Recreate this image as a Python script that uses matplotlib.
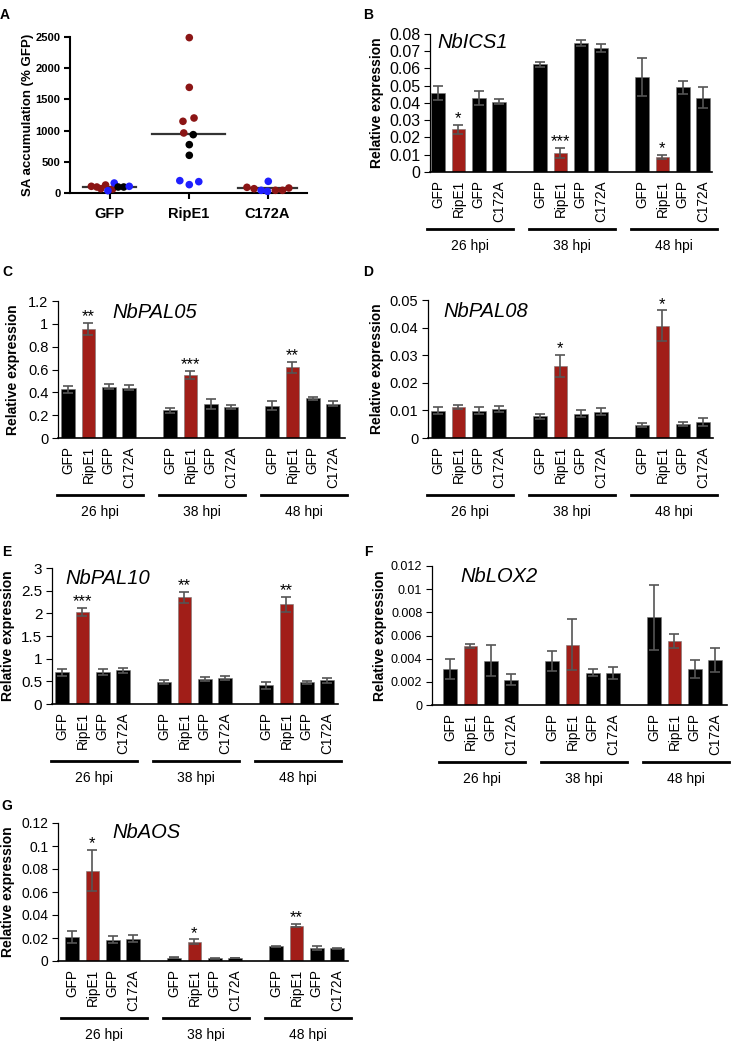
import numpy as np
import matplotlib.pyplot as plt
from matplotlib import transforms
from matplotlib.ticker import FuncFormatter

plt.rcParams['font.family'] = ['Liberation Sans', 'DejaVu Sans']

W, H = 734, 1041
RED = '#a11e18'
DARKRED = '#8b1515'
BLUE = '#1f1fff'

# ---- panel A data: SA accumulation (% GFP), one dot per sample
sa_groups = ['GFP', 'RipE1', 'C172A']
sa_gfp = [107, 96, 69, 128, 64, 37, 160, 96, 96, 107]
sa_gfp_col = ['r', 'r', 'r', 'r', 'r', 'b', 'b', 'k', 'k', 'b']
sa_gfp_dx = [-0.23, -0.16, -0.11, -0.05, 0.04, -0.02, 0.06, 0.11, 0.18, 0.25]
sa_ripe1 = [2490, 1693, 1149, 1202, 962, 935, 775, 604, 198, 134, 182]
sa_ripe1_col = ['r', 'r', 'r', 'r', 'r', 'k', 'k', 'k', 'b', 'b', 'b']
sa_ripe1_dx = [0.01, 0.01, -0.07, 0.07, -0.06, 0.06, 0.01, 0.01, -0.11, 0.01, 0.13]
sa_c172a = [91, 69, 43, 187, 27, 43, 43, 80]
sa_c172a_col = ['r', 'r', 'b', 'b', 'b', 'r', 'r', 'r']
sa_c172a_dx = [-0.26, -0.17, -0.08, 0.01, 0.0, 0.10, 0.19, 0.27]

# ---- qRT-PCR data (bars: GFP, RipE1, GFP, C172A at 26 / 38 / 48 hpi)
hpi = ['26 hpi', '38 hpi', '48 hpi']
bar_labels = ['GFP', 'RipE1', 'GFP', 'C172A']

ics1 = [0.0456, 0.0247, 0.0431, 0.0408, 0.0625, 0.0113, 0.0748, 0.0718, 0.0553, 0.0087, 0.0491, 0.0431]
ics1_err = [0.004, 0.0025, 0.004, 0.0015, 0.0015, 0.0029, 0.0015, 0.0023, 0.011, 0.0014, 0.0039, 0.006]
ics1_stars = ['*', '***', '*']

pal05 = [0.427, 0.955, 0.45, 0.44, 0.244, 0.552, 0.296, 0.273, 0.282, 0.619, 0.349, 0.30]
pal05_err = [0.03, 0.055, 0.022, 0.02, 0.022, 0.035, 0.045, 0.02, 0.04, 0.049, 0.014, 0.022]
pal05_stars = ['**', '***', '**']

pal08 = [0.0099, 0.0113, 0.0099, 0.0105, 0.0078, 0.0261, 0.0088, 0.0096, 0.0047, 0.0407, 0.0051, 0.0058]
pal08_err = [0.0012, 0.0007, 0.0012, 0.0012, 0.0009, 0.004, 0.0012, 0.0012, 0.0007, 0.0055, 0.0008, 0.0016]
pal08_stars = ['', '*', '*']

pal10 = [0.70, 2.03, 0.71, 0.74, 0.49, 2.35, 0.55, 0.575, 0.41, 2.20, 0.48, 0.52]
pal10_err = [0.08, 0.09, 0.07, 0.05, 0.05, 0.13, 0.045, 0.035, 0.08, 0.16, 0.03, 0.05]
pal10_stars = ['***', '**', '**']

lox2 = [0.0031, 0.0051, 0.00383, 0.00219, 0.0038, 0.0052, 0.0028, 0.00276, 0.00757, 0.00555, 0.00314, 0.00388]
lox2_err = [0.00085, 0.0002, 0.00135, 0.0005, 0.0009, 0.0022, 0.0003, 0.00055, 0.0028, 0.0006, 0.00077, 0.001]
lox2_stars = ['', '', '']

aos = [0.0209, 0.0786, 0.0186, 0.0194, 0.0029, 0.0168, 0.0023, 0.0026, 0.0128, 0.0307, 0.0116, 0.011]
aos_err = [0.005, 0.018, 0.0033, 0.0032, 0.0005, 0.002, 0.0003, 0.0004, 0.0005, 0.0013, 0.0017, 0.0006]
aos_stars = ['*', '*', '**']


def px_axes(fig, left, right, top, bottom):
    return fig.add_axes([left / W, 1 - bottom / H, (right - left) / W, (bottom - top) / H])


def ftext(fig, x, y, s, **kw):
    fig.text(x / W, 1 - y / H, s, **kw)


fig = plt.figure(figsize=(W / 100, H / 100), dpi=100)

# ---------------- panel A
ax = px_axes(fig, 70, 307, 37, 193)
cmap = {'r': DARKRED, 'b': BLUE, 'k': 'black'}
half = [0.33, 0.46, 0.37]
for i, (vals, cols, dx) in enumerate([(sa_gfp, sa_gfp_col, sa_gfp_dx),
                                      (sa_ripe1, sa_ripe1_col, sa_ripe1_dx),
                                      (sa_c172a, sa_c172a_col, sa_c172a_dx)]):
    ax.scatter(i + np.array(dx), vals, s=30, c=[cmap[c] for c in cols], zorder=3,
               linewidths=0, clip_on=False)
    m = np.mean(vals)
    ax.plot([i - half[i], i + half[i]], [m, m], color='#333333', lw=1.6, zorder=2)
ax.set_xlim(-0.5, 2.5)
ax.set_ylim(0, 2500)
ax.set_yticks(np.arange(0, 2501, 500))
ax.set_xticks(range(3))
ax.set_xticklabels(sa_groups, fontsize=10.5, fontweight='bold')
for lab in ax.get_yticklabels():
    lab.set_fontweight('bold')
    lab.set_fontsize(8)
for s in ['top', 'right']:
    ax.spines[s].set_visible(False)
for s in ['left', 'bottom']:
    ax.spines[s].set_linewidth(1.5)
ax.tick_params(width=1.5, length=4, pad=3)
ax.tick_params(axis='x', pad=6)
ftext(fig, 28, 115, 'SA accumulation (% GFP)', rotation=90, ha='center', va='center',
      fontsize=9.5, fontweight='bold')

# ---------------- bar panels
xpos = np.array([g * 5 + i for g in range(3) for i in range(4)])
colors = ['black', RED, 'black', 'black'] * 3

panels = [
    # letter, gene, values, err, stars, ymax, step, (left, right, top, bottom), first bar px,
    # ylabel x, gene pos, letter pos, y tick size
    ('B', 'NbICS1', ics1, ics1_err, ics1_stars, 0.08, 0.01, (430, 712, 34, 172), 438, 377, (437, 43), (368, 15), 11.5),
    ('C', 'NbPAL05', pal05, pal05_err, pal05_stars, 1.2, 0.2, (58, 345, 301, 438), 68, 13, (112, 313), (7, 272), 10.5),
    ('D', 'NbPAL08', pal08, pal08_err, pal08_stars, 0.05, 0.01, (428, 713, 300, 438), 438, 377, (443, 312), (368, 272), 10.5),
    ('E', 'NbPAL10', pal10, pal10_err, pal10_stars, 3, 0.5, (52, 338, 568, 704), 62, 8, (65, 578), (7, 552), 11),
    ('F', 'NbLOX2', lox2, lox2_err, lox2_stars, 0.012, 0.002, (432, 727, 566, 705), 450, 380, (460, 577), (368, 552), 9),
    ('G', 'NbAOS', aos, aos_err, aos_stars, 0.12, 0.02, (58, 348, 823, 961), 72, 8, (112, 833), (7, 806), 10),
]

slot = 20.4
for letter, gene, vals, err, stars, ymax, step, (l, r, t, b), first, labx, gpos, lpos, tsize in panels:
    ax = px_axes(fig, l, r, t, b)
    ax.bar(xpos, vals, width=0.66, color=colors, edgecolor='#777777', linewidth=0.4, zorder=2)
    ax.errorbar(xpos, vals, yerr=err, fmt='none', ecolor='#555555', elinewidth=1.2,
                capsize=3.6, capthick=1.2, zorder=3)
    x0 = (l - first) / slot
    ax.set_xlim(x0, x0 + (r - l) / slot)
    ax.set_ylim(0, ymax)
    ax.set_yticks(np.arange(0, ymax + step / 2, step))
    ax.yaxis.set_major_formatter(FuncFormatter(lambda v, p: f'{round(v, 6):g}'))
    ax.set_xticks(xpos)
    ax.set_xticklabels(bar_labels * 3, rotation=90, fontsize=9.8)
    ax.tick_params(axis='x', length=0, pad=6)
    ax.tick_params(axis='y', length=4, width=0.8, labelsize=tsize, pad=3)
    for s in ['top', 'right']:
        ax.spines[s].set_visible(False)
    ax.spines['left'].set_linewidth(0.9)
    ax.spines['bottom'].set_linewidth(1.2)

    for g, st in enumerate(stars):
        if st:
            k = g * 4 + 1
            ax.annotate(st, (xpos[k], vals[k] + err[k]), xytext=(0, -1), textcoords='offset points',
                        ha='center', va='bottom', fontsize=12, annotation_clip=False)

    h = b - t
    trans = transforms.blended_transform_factory(ax.transData, ax.transAxes)
    for g, lab in enumerate(hpi):
        ax.plot([g * 5 - 0.55, g * 5 + 3.7], [-57 / h, -57 / h], color='black', lw=2,
                transform=trans, clip_on=False)
        ax.text(g * 5 + 1.55, -74 / h, lab, transform=trans, ha='center', va='center', fontsize=10)

    ftext(fig, labx, (t + b) / 2, 'Relative expression', rotation=90, ha='center', va='center',
          fontsize=10, fontweight='bold')
    ftext(fig, gpos[0], gpos[1], gene, ha='left', va='center', fontsize=14.5, fontstyle='italic')
    ftext(fig, lpos[0], lpos[1], letter, ha='center', va='center', fontsize=10, fontweight='bold')

ftext(fig, 5, 15, 'A', ha='center', va='center', fontsize=10, fontweight='bold')

fig.savefig('out.png', dpi=100)
